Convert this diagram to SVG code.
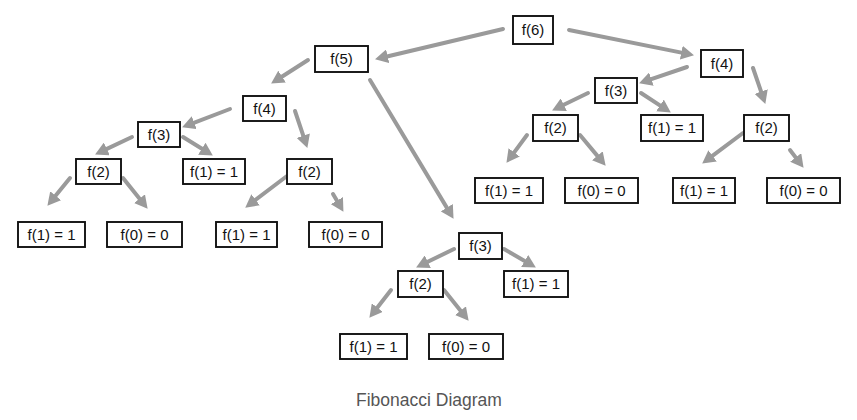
<svg xmlns="http://www.w3.org/2000/svg" width="857" height="420" viewBox="0 0 857 420">
<style>
.n rect{fill:#fff;stroke:#111;stroke-width:1.9}
.n text{font-family:"Liberation Sans",Arial,sans-serif;font-size:15px;fill:#111;text-anchor:middle}
#edges line{stroke:#9a9a9a;stroke-width:4;stroke-linecap:round;marker-end:url(#ah)}
.cap{font-family:"Liberation Sans",Arial,sans-serif;font-size:17.5px;fill:#555;text-anchor:middle}
</style>
<defs>
<marker id="ah" markerUnits="userSpaceOnUse" markerWidth="13" markerHeight="14" refX="4" refY="7" orient="auto" viewBox="0 0 13 14">
<path d="M0,0 L13,7 L0,14 z" fill="#9a9a9a"/>
</marker>
</defs>
<rect width="857" height="420" fill="#fff"/>
<g id="edges">
<line x1="503" y1="29" x2="383.8" y2="57.2"/>
<line x1="569" y1="30" x2="685.2" y2="53.4"/>
<line x1="308" y1="60" x2="278.7" y2="78.7"/>
<line x1="370" y1="80" x2="448.9" y2="211.1"/>
<line x1="230" y1="109" x2="190.5" y2="124.1"/>
<line x1="295" y1="111" x2="304.5" y2="139.4"/>
<line x1="132" y1="137" x2="103.2" y2="150.6"/>
<line x1="183" y1="137" x2="205.2" y2="150.8"/>
<line x1="70" y1="178" x2="53.1" y2="198.8"/>
<line x1="123" y1="178" x2="142" y2="201.8"/>
<line x1="287" y1="176" x2="252.4" y2="202.2"/>
<line x1="333" y1="194" x2="338.9" y2="204.1"/>
<line x1="687" y1="67" x2="647.6" y2="80.4"/>
<line x1="753" y1="68" x2="762.4" y2="95.4"/>
<line x1="588" y1="93" x2="560.2" y2="106.5"/>
<line x1="641" y1="93" x2="663.3" y2="107.6"/>
<line x1="527" y1="135" x2="511.8" y2="155.6"/>
<line x1="580" y1="135" x2="599.9" y2="158.9"/>
<line x1="743" y1="133" x2="709.4" y2="158.2"/>
<line x1="790" y1="150" x2="798.1" y2="160.6"/>
<line x1="454" y1="249" x2="424.2" y2="263.5"/>
<line x1="504" y1="249" x2="528.1" y2="263"/>
<line x1="391" y1="290" x2="374.9" y2="310.7"/>
<line x1="444" y1="290" x2="463" y2="313.8"/>
</g>
<g id="f6" class="n"><rect x="513" y="16" width="40" height="28"/><text x="533" y="35">f(6)</text></g>
<g id="f5" class="n"><rect x="315" y="46" width="53" height="26"/><text x="341.5" y="64">f(5)</text></g>
<g id="f4a" class="n"><rect x="243" y="96" width="43" height="25"/><text x="264.5" y="113.5">f(4)</text></g>
<g id="f3a" class="n"><rect x="138" y="122" width="42" height="25"/><text x="159" y="139.5">f(3)</text></g>
<g id="f2a" class="n"><rect x="76" y="159" width="45" height="25"/><text x="98.5" y="176.5">f(2)</text></g>
<g id="f1a" class="n"><rect x="183" y="159" width="62" height="25"/><text x="214" y="176.5">f(1) = 1</text></g>
<g id="f2b" class="n"><rect x="287" y="159" width="45" height="25"/><text x="309.5" y="176.5">f(2)</text></g>
<g id="f1b" class="n"><rect x="18" y="222" width="67" height="25"/><text x="51.5" y="239.5">f(1) = 1</text></g>
<g id="f0b" class="n"><rect x="107" y="222" width="75" height="25"/><text x="144.5" y="239.5">f(0) = 0</text></g>
<g id="f1c" class="n"><rect x="216" y="222" width="61" height="25"/><text x="246.5" y="239.5">f(1) = 1</text></g>
<g id="f0c" class="n"><rect x="309" y="222" width="73" height="25"/><text x="345.5" y="239.5">f(0) = 0</text></g>
<g id="f4b" class="n"><rect x="701" y="50" width="42" height="27"/><text x="722" y="68.5">f(4)</text></g>
<g id="f3b" class="n"><rect x="595" y="78" width="42" height="25"/><text x="616" y="95.5">f(3)</text></g>
<g id="f2c" class="n"><rect x="533" y="115" width="45" height="26"/><text x="555.5" y="133">f(2)</text></g>
<g id="f1d" class="n"><rect x="641" y="115" width="62" height="26"/><text x="672" y="133">f(1) = 1</text></g>
<g id="f2d" class="n"><rect x="744" y="115" width="45" height="26"/><text x="766.5" y="133">f(2)</text></g>
<g id="f1e" class="n"><rect x="475" y="178" width="68" height="25"/><text x="509" y="195.5">f(1) = 1</text></g>
<g id="f0e" class="n"><rect x="565" y="178" width="73" height="25"/><text x="601.5" y="195.5">f(0) = 0</text></g>
<g id="f1f" class="n"><rect x="673" y="178" width="62" height="25"/><text x="704" y="195.5">f(1) = 1</text></g>
<g id="f0f" class="n"><rect x="767" y="178" width="73" height="25"/><text x="803.5" y="195.5">f(0) = 0</text></g>
<g id="f3c" class="n"><rect x="459" y="233" width="43" height="26"/><text x="480.5" y="251">f(3)</text></g>
<g id="f2e" class="n"><rect x="398" y="271" width="45" height="26"/><text x="420.5" y="289">f(2)</text></g>
<g id="f1g" class="n"><rect x="504" y="271" width="64" height="26"/><text x="536" y="289">f(1) = 1</text></g>
<g id="f1h" class="n"><rect x="340" y="334" width="67" height="25"/><text x="373.5" y="351.5">f(1) = 1</text></g>
<g id="f0h" class="n"><rect x="429" y="334" width="74" height="25"/><text x="466" y="351.5">f(0) = 0</text></g>
<text class="cap" x="429" y="406">Fibonacci Diagram</text>
</svg>
